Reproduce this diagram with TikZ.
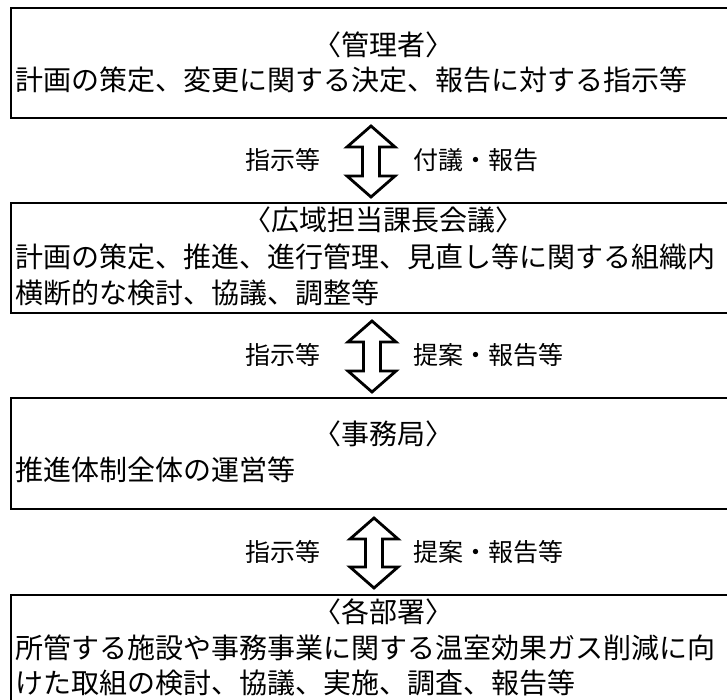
\documentclass[tikz,border=0pt]{standalone}
\usepackage{fontspec}
\setmainfont{Noto Sans CJK JP}
\usetikzlibrary{calc}
\tikzset{
  box/.style={draw=black, line width=2.5pt},
  body/.style={inner sep=0pt, font=\fontsize{28}{34}\selectfont, text height=22.4pt, text depth=2.2pt},
  lbl/.style={inner sep=0pt, font=\fontsize{25}{30}\selectfont, text height=20pt, text depth=2pt},
  barrow/.style={draw=black, fill=white, line width=2.8pt, line join=miter},
}
\newcommand{\dblarrow}[2]{%
  \draw[barrow] ($(#1)$) -- ($(#1)+(24,21)$) -- ($(#1)+(8.5,21)$) -- ($(#2)+(8.5,-21)$) -- ($(#2)+(24,-21)$) -- ($(#2)$) -- ($(#2)+(-24,-21)$) -- ($(#2)+(-8.5,-21)$) -- ($(#1)+(-8.5,21)$) -- ($(#1)+(-24,21)$) -- cycle;}
\begin{document}
\begin{tikzpicture}[x=1pt,y=-1pt]
\useasboundingbox (0,0) rectangle (727,699);
% boxes
\draw[box] (11,8) rectangle (755,118);
\draw[box] (11,203) rectangle (755,313);
\draw[box] (11,398) rectangle (755,509);
\draw[box] (11,595) rectangle (755,730);
% box 1
\node[body] (t1) at (383,45) {〈管理者〉};
\node[body, anchor=west] (b1) at (15,80) {計画の策定、変更に関する決定、報告に対する指示等};
% box 2
\node[body] (t2) at (383,220) {〈広域担当課長会議〉};
\node[body, anchor=west] (b2a) at (15,257) {計画の策定、推進、進行管理、見直し等に関する組織内};
\node[body, anchor=west] (b2b) at (15,293) {横断的な検討、協議、調整等};
% box 3
\node[body] (t3) at (383,434) {〈事務局〉};
\node[body, anchor=west] (b3) at (15,470) {推進体制全体の運営等};
% box 4
\node[body] (t4) at (383,612) {〈各部署〉};
\node[body, anchor=west] (b4a) at (15,648) {所管する施設や事務事業に関する温室効果ガス削減に向};
\node[body, anchor=west] (b4b) at (15,683) {けた取組の検討、協議、実施、調査、報告等};
% arrows
\coordinate (a1t) at (371,126);
\coordinate (a1b) at (371,197);
\coordinate (a2t) at (372,321);
\coordinate (a2b) at (372,392);
\coordinate (a3t) at (374,518);
\coordinate (a3b) at (374,588);
\dblarrow{a1t}{a1b}
\dblarrow{a2t}{a2b}
\dblarrow{a3t}{a3b}
% labels
\node[lbl, anchor=east] (l1) at (321,160) {指示等};
\node[lbl, anchor=west] (r1) at (413,160) {付議・報告};
\node[lbl, anchor=east] (l2) at (321,355) {指示等};
\node[lbl, anchor=west] (r2) at (413,355) {提案・報告等};
\node[lbl, anchor=east] (l3) at (321,552) {指示等};
\node[lbl, anchor=west] (r3) at (413,552) {提案・報告等};
\end{tikzpicture}
\end{document}
